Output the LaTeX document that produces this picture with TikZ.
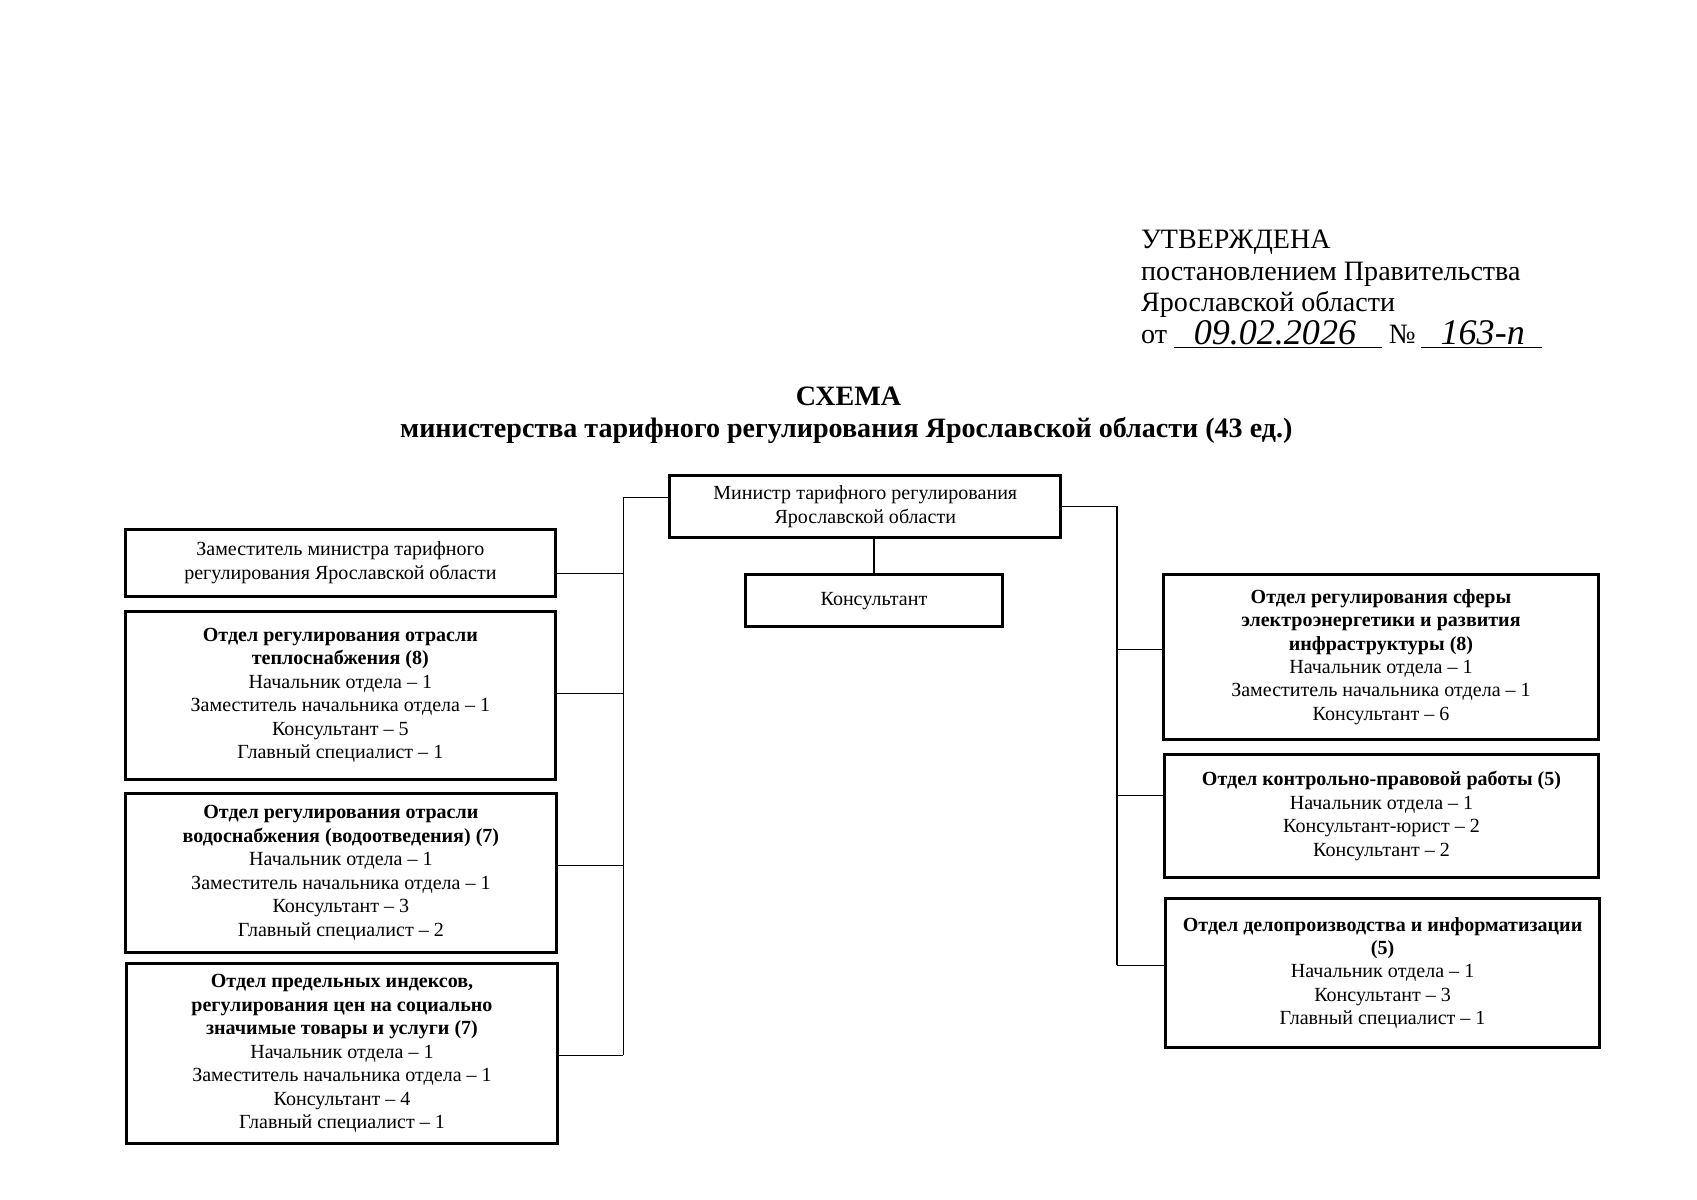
\documentclass[tikz,border=0pt]{standalone}
\usepackage{fontspec}
\setmainfont{Liberation Serif}
\begin{document}
\begin{tikzpicture}[x=0.54pt,y=-0.54pt,
  box/.style={draw, line width=1.5pt, inner sep=0pt, align=center,
    font=\fontsize{10}{11.7}\selectfont},
  link/.style={line width=0.6pt},
  hdr/.style={inner sep=0pt, anchor=base west, font=\fontsize{14}{16}\selectfont},
  ttl/.style={inner sep=0pt, anchor=base, font=\fontsize{14}{16}\selectfont\bfseries},
  hand/.style={inner sep=0pt, anchor=base, text height=10pt, text depth=0pt,
    font=\fontsize{18}{20}\selectfont\itshape}]
\useasboundingbox (0,0) rectangle (1568,1108);

% header
\node[hdr] (h1) at (1054,230) {УТВЕРЖДЕНА};
\node[hdr] (h2) at (1054,259) {постановлением Правительства};
\node[hdr] (h3) at (1054,288) {Ярославской области};
\node[hdr] (h4) at (1054,317) {от};
\node[hand] (date) at (1178,318) {09.02.2026};
\node[hdr] (no) at (1283,317) {№};
\node[hand] (num) at (1370,318) {163-п};
\coordinate (u1a) at (1085,321); \coordinate (u1b) at (1277,321);
\coordinate (u2a) at (1313,321); \coordinate (u2b) at (1425,321);
\draw[link] (u1a) -- (u1b);
\draw[link] (u2a) -- (u2b);

% title
\node[ttl] (t1) at (784,375) {СХЕМА};
\node[ttl] (t2) at (782,404) {министерства тарифного регулирования Ярославской области (43 ед.)};

% boxes
\node[box, minimum width=361*0.54pt, minimum height=58*0.54pt] (min) at (799.5,468)
  {Министр тарифного регулирования\\Ярославской области};
\node[box, minimum width=237*0.54pt, minimum height=48*0.54pt] (cons) at (807.5,555)
  {Консультант};

\node[box, minimum width=397*0.54pt, minimum height=62*0.54pt] (dep) at (314.5,520)
  {Заместитель министра тарифного\\регулирования Ярославской области};
\node[box, minimum width=397*0.54pt, minimum height=155*0.54pt] (b2) at (314.5,642.5)
  {\textbf{Отдел регулирования отрасли}\\\textbf{теплоснабжения (8)}\\Начальник отдела – 1\\Заместитель начальника отдела – 1\\Консультант – 5\\Главный специалист – 1};
\node[box, minimum width=398*0.54pt, minimum height=147*0.54pt] (b3) at (315,806.5)
  {\textbf{Отдел регулирования отрасли}\\\textbf{водоснабжения (водоотведения) (7)}\\Начальник отдела – 1\\Заместитель начальника отдела – 1\\Консультант – 3\\Главный специалист – 2};
\node[box, minimum width=398*0.54pt, minimum height=167*0.54pt] (b4) at (316,973.5)
  {\textbf{Отдел предельных индексов,}\\\textbf{регулирования цен на социально}\\\textbf{значимые товары и услуги (7)}\\Начальник отдела – 1\\Заместитель начальника отдела – 1\\Консультант – 4\\Главный специалист – 1};

\node[box, minimum width=402*0.54pt, minimum height=152*0.54pt] (r1) at (1276,607)
  {\textbf{Отдел регулирования сферы}\\\textbf{электроэнергетики и развития}\\\textbf{инфраструктуры (8)}\\Начальник отдела – 1\\Заместитель начальника отдела – 1\\Консультант – 6};
\node[box, minimum width=401*0.54pt, minimum height=114*0.54pt] (r2) at (1276.5,754)
  {\textbf{Отдел контрольно-правовой работы (5)}\\Начальник отдела – 1\\Консультант-юрист – 2\\Консультант – 2};
\node[box, minimum width=401*0.54pt, minimum height=138*0.54pt] (r3) at (1277.5,899)
  {\textbf{Отдел делопроизводства и информатизации}\\\textbf{(5)}\\Начальник отдела – 1\\Консультант – 3\\Главный специалист – 1};

% connectors
\draw[link] (min.south -| cons.north) -- (cons.north);

\coordinate (lb) at (576,460);
\coordinate (jd) at (576,530);
\coordinate (j2) at (576,641);
\coordinate (j3) at (576,800);
\coordinate (j4) at (576,975);
\draw[link] (min.west |- lb) -- (lb) -- (j4);
\draw[link] (jd) -- (jd -| dep.east);
\draw[link] (j2) -- (j2 -| b2.east);
\draw[link] (j3) -- (j3 -| b3.east);
\draw[link] (j4) -- (j4 -| b4.east);

\coordinate (rb) at (1032,468);
\coordinate (k1) at (1032,600);
\coordinate (k2) at (1032,735);
\coordinate (k3) at (1032,892);
\draw[link] (min.east |- rb) -- (rb) -- (k3);
\draw[link] (k1) -- (k1 -| r1.west);
\draw[link] (k2) -- (k2 -| r2.west);
\draw[link] (k3) -- (k3 -| r3.west);
\end{tikzpicture}
\end{document}
